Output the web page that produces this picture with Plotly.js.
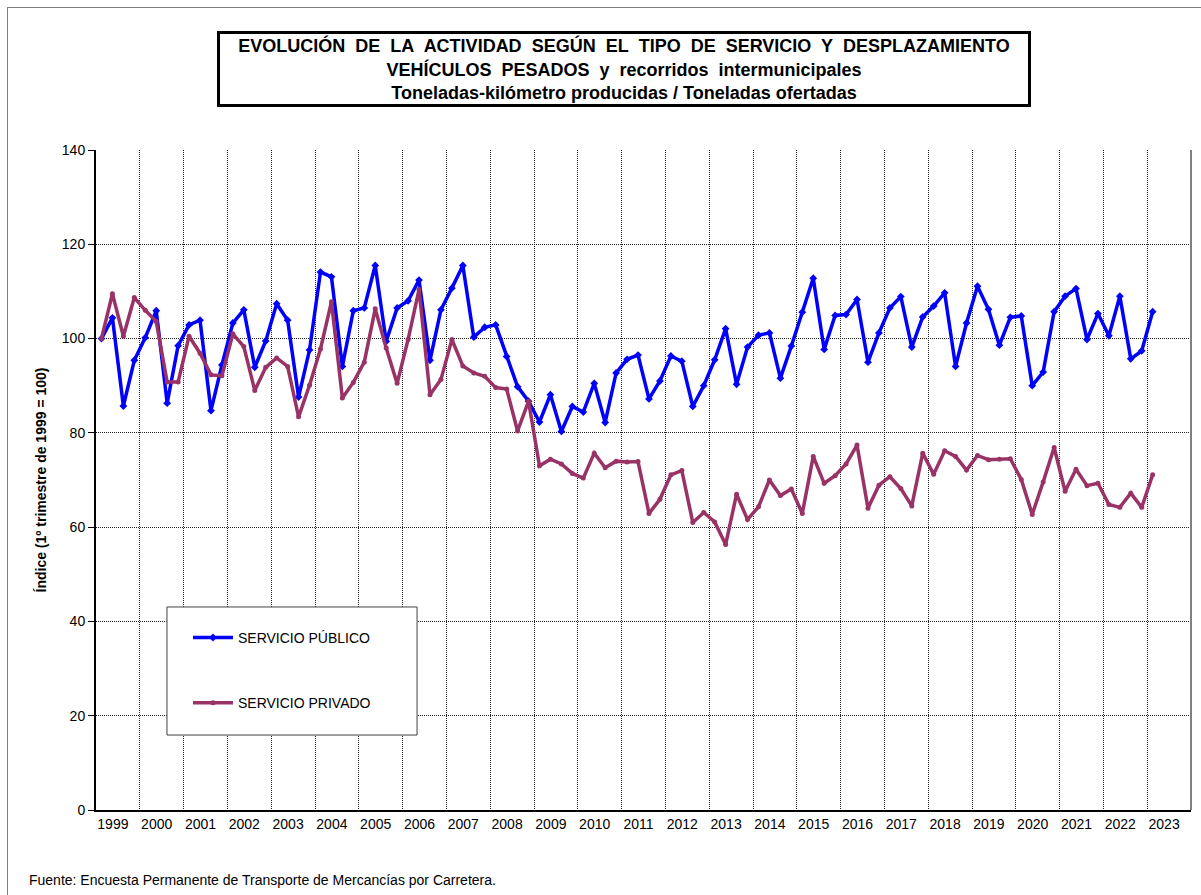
<!DOCTYPE html>
<html>
<head>
<meta charset="utf-8">
<script src="https://cdn.plot.ly/plotly-3.0.1.min.js"></script>
<style>
html,body{margin:0;padding:0;background:#fff;}
#wrap{position:relative;width:1201px;height:895px;overflow:hidden;}
#chart{position:absolute;left:0;top:0;width:1201px;height:895px;}
#frame{position:absolute;left:7px;top:7px;width:1210px;height:910px;border:1px solid #7f7f7f;pointer-events:none;}
</style>
</head>
<body>
<div id="wrap"><div id="chart"></div><div id="frame"></div></div>
<script>
// Years shown on the x axis (one band of 4 quarters each)
const years = ['1999','2000','2001','2002','2003','2004','2005','2006','2007','2008','2009','2010','2011','2012','2013','2014','2015','2016','2017','2018','2019','2020','2021','2022','2023'];
const quarters = ['T1','T2','T3','T4'];

// Índice (1º trimestre de 1999 = 100), quarterly 1999T1 .. 2023T1
const servicioPublico = [
  100.0,104.4, 85.7, 95.4,   // 1999
  100.2,105.9, 86.3, 98.5,   // 2000
  102.9,103.9, 84.7, 94.4,   // 2001
  103.3,106.1, 93.9, 99.5,   // 2002
  107.4,103.9, 87.6, 97.6,   // 2003
  114.1,113.1, 94.1,105.9,   // 2004
  106.5,115.5, 99.4,106.5,   // 2005
  108.0,112.4, 95.4,106.1,   // 2006
  110.7,115.5,100.3,102.4,   // 2007
  102.9, 96.2, 89.8, 86.7,   // 2008
   82.3, 88.1, 80.3, 85.6,   // 2009
   84.4, 90.5, 82.2, 92.7,   // 2010
   95.6, 96.5, 87.2, 91.0,   // 2011
   96.3, 95.2, 85.6, 90.0,   // 2012
   95.5,102.1, 90.3, 98.2,   // 2013
  100.7,101.2, 91.6, 98.4,   // 2014
  105.6,112.8, 97.7,104.9,   // 2015
  105.1,108.3, 95.0,101.2,   // 2016
  106.5,108.9, 98.2,104.6,   // 2017
  106.9,109.7, 94.1,103.3,   // 2018
  111.1,106.2, 98.6,104.5,   // 2019
  104.8, 90.0, 92.9,105.7,   // 2020
  109.0,110.6, 99.8,105.3,   // 2021
  100.6,109.0, 95.7, 97.4,   // 2022
  105.7                      // 2023
];
const servicioPrivado = [
  100.0,109.5,100.5,108.7,   // 1999
  106.0,103.6, 90.8, 90.8,   // 2000
  100.5, 96.9, 92.3, 92.1,   // 2001
  101.0, 98.3, 89.0, 93.9,   // 2002
   95.9, 94.1, 83.4, 90.1,   // 2003
   97.8,107.8, 87.4, 90.7,   // 2004
   95.0,106.3, 98.0, 90.5,   // 2005
   99.8,110.4, 88.1, 91.3,   // 2006
   99.8, 94.2, 92.7, 92.0,   // 2007
   89.6, 89.3, 80.4, 86.7,   // 2008
   73.0, 74.4, 73.4, 71.4,   // 2009
   70.4, 75.7, 72.6, 74.0,   // 2010
   73.8, 73.9, 62.9, 65.9,   // 2011
   71.1, 72.0, 61.0, 63.1,   // 2012
   61.1, 56.3, 67.0, 61.6,   // 2013
   64.3, 70.0, 66.7, 68.1,   // 2014
   62.9, 75.0, 69.3, 70.9,   // 2015
   73.4, 77.4, 64.0, 68.9,   // 2016
   70.7, 68.2, 64.5, 75.7,   // 2017
   71.2, 76.2, 75.0, 72.1,   // 2018
   75.2, 74.3, 74.4, 74.5,   // 2019
   70.1, 62.7, 69.6, 76.9,   // 2020
   67.6, 72.3, 68.8, 69.3,   // 2021
   64.8, 64.2, 67.2, 64.2,   // 2022
   71.1                      // 2023
];
const yTicks = [0,20,40,60,80,100,120,140];

const seriesNames = ['SERVICIO PÚBLICO','SERVICIO PRIVADO'];
const seriesColors = ['#0000FF','#993366'];

// quarter position index and labels
const qLabels = [];
years.forEach(y => quarters.forEach(q => qLabels.push(y + ' ' + q)));
const xIdx = servicioPublico.map((v,i) => i);
const yearCenters = years.map((y,i) => i*quarters.length + (quarters.length-1)/2);

const FONT = 'Liberation Sans, Arial, sans-serif';
const GRID = '#222';

const traces = [
  {x:xIdx, y:servicioPublico, text:qLabels.slice(0,servicioPublico.length), name:seriesNames[0], legendgroup:'a',
   type:'scatter', mode:'lines+markers', line:{color:seriesColors[0], width:3.5},
   marker:{color:seriesColors[0], size:6, symbol:'diamond'}},
  {x:xIdx, y:servicioPrivado, text:qLabels.slice(0,servicioPrivado.length), name:seriesNames[1], legendgroup:'b',
   type:'scatter', mode:'lines+markers', line:{color:seriesColors[1], width:3.5},
   marker:{color:seriesColors[1], size:5, symbol:'circle'}}
];

const nb = '\u00a0';
const titleText = '<b>EVOLUCIÓN'+nb+' DE'+nb+' LA'+nb+' ACTIVIDAD'+nb+' SEGÚN'+nb+' EL'+nb+' TIPO'+nb+' DE'+nb+' SERVICIO'+nb+' Y'+nb+' DESPLAZAMIENTO</b><br>' +
  '<b>VEHÍCULOS'+nb+' PESADOS'+nb+' y'+nb+' recorridos'+nb+' intermunicipales</b><br>' +
  '<b>Toneladas-kilómetro producidas / Toneladas ofertadas</b>';

const layout = {
  width:1201, height:895,
  margin:{l:96, r:10, t:150, b:85},
  paper_bgcolor:'rgba(0,0,0,0)', plot_bgcolor:'#fff',
  font:{family:FONT, size:14, color:'#000'},
  showlegend:true,
  legend:{x:0.084, y:0.285, xanchor:'left', yanchor:'top', bgcolor:'rgba(0,0,0,0)', borderwidth:0,
          traceorder:'grouped', tracegroupgap:44, itemwidth:40, font:{family:FONT, size:14, color:'#000'}},
  xaxis:{range:[-0.5, years.length*quarters.length-0.5], tickmode:'array', tickvals:yearCenters, ticktext:years,
         showgrid:false, zeroline:false, ticks:'', showline:true, linecolor:'#000', linewidth:2, ticklabelshift:-5,
         tickfont:{family:FONT, size:14, color:'#000'}, fixedrange:true,
         minor:{tick0:-0.5, dtick:quarters.length, showgrid:true, gridcolor:GRID, griddash:'1px,1px', gridwidth:1, ticks:''}},
  yaxis:{range:[0,140], tickmode:'array', tickvals:yTicks, showgrid:true, gridcolor:GRID, griddash:'1px,1px', gridwidth:1,
         zeroline:false, showline:true, linecolor:'#000', linewidth:2, ticks:'outside', ticklen:6, tickcolor:'#000',
         tickfont:{family:FONT, size:14, color:'#000'}, fixedrange:true,
         title:{text:'<b>Índice (1º trimestre de 1999 = 100)</b>', font:{family:FONT, size:14, color:'#000'}, standoff:12}},
  shapes:[
    {type:'line', xref:'paper', yref:'paper', x0:1, x1:1, y0:0, y1:1, line:{color:'#808080', width:2}},
    {type:'rect', xref:'paper', yref:'paper', x0:0.0648, x1:0.2932, y0:0.1136, y1:0.3076,
     line:{color:'#404040', width:1}, fillcolor:'#fff', layer:'above'}
  ],
  annotations:[
    {xref:'paper', yref:'paper', x:0.4822, y:1.1227, xanchor:'center', yanchor:'middle', showarrow:false,
     text:titleText, align:'center', width:806, height:68, borderwidth:3, bordercolor:'#000', borderpad:1, bgcolor:'#fff',
     font:{family:FONT, size:18, color:'#000'}},
    {xref:'paper', yref:'paper', x:-0.063, y:-0.106, xanchor:'left', yanchor:'middle', showarrow:false,
     text:'Fuente: Encuesta Permanente de Transporte de Mercancías por Carretera.', font:{family:FONT, size:14, color:'#000'}}
  ]
};

Plotly.newPlot('chart', traces, layout, {displayModeBar:false, staticPlot:true});
</script>
</body>
</html>
